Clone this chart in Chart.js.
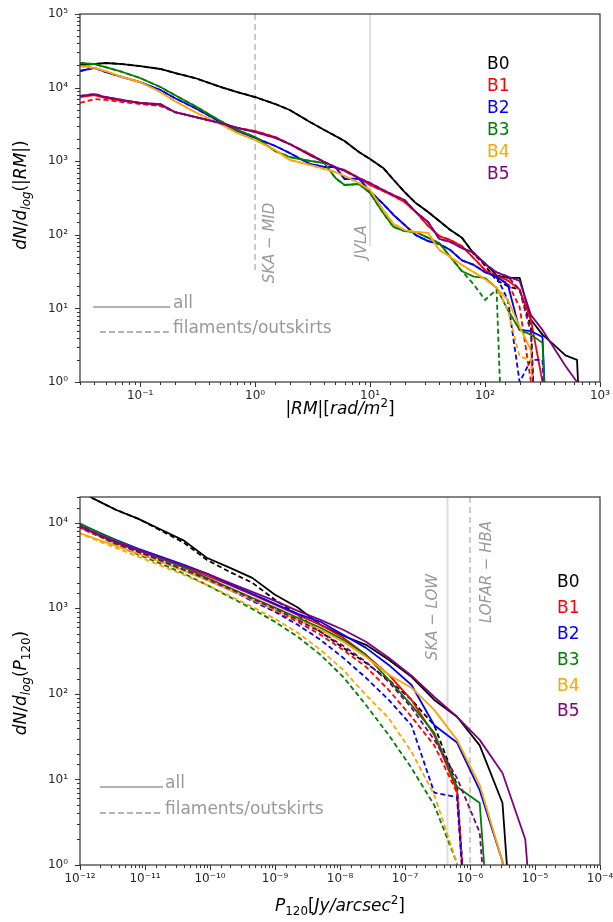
<!DOCTYPE html>
<html>
<head>
<meta charset="utf-8">
<script src="https://cdn.jsdelivr.net/npm/chart.js@4.4.1/dist/chart.umd.min.js"></script>
<style>
    body { margin: 0; background: #fff; }
    canvas { position: absolute; left: 0; }
    #rmChart { top: 0; }
    #pChart { top: 440px; }
</style>
</head>
<body>
<canvas id="rmChart" width="613" height="440"></canvas>
<canvas id="pChart" width="613" height="482"></canvas>
<script>
const boxNames = ['B0', 'B1', 'B2', 'B3', 'B4', 'B5'];
const boxColors = ['#000000', '#ff0000', '#0000ff', '#008000', '#ffa500', '#800080'];

// top panel: |RM| bins [rad/m^2], counts (0 = empty bin)
const rmBins = [0.03, 0.04, 0.05, 0.07, 0.1, 0.15, 0.2, 0.3, 0.5, 0.7, 1, 1.5, 2, 3, 4, 5, 6, 8, 10, 13,
    16, 20, 25, 32, 40, 50, 63, 80, 100, 126, 158, 200, 251, 316, 398, 501, 631, 794];

const rmAllB0 = [20300, 20900, 21600, 20900, 19600, 17900, 15800, 13500, 10200, 8700, 7450, 5980, 4960, 3410, 2660, 2200, 1880, 1330, 1070, 810,
    560, 380, 270, 204, 154, 116, 91, 55, 41, 28, 26, 26, 7.0, 4.4, 3.2, 2.3, 2.0, 0];
const rmFilB0 = [20300, 20900, 21600, 20900, 19600, 17900, 15800, 13500, 10200, 8700, 7450, 5980, 4960, 3410, 2660, 2200, 1880, 1330, 1070, 810,
    560, 380, 270, 204, 154, 116, 91, 55, 38, 24, 20, 18, 5.6, 0, 0, 0, 0, 0];
const rmAllB1 = [7450, 7930, 7220, 6580, 6180, 5800, 4660, 3990, 3300, 2830, 2570, 2130, 1710, 1250, 975, 809, 760, 590, 475, 394,
    337, 279, 204, 132, 96, 85, 70, 48, 33, 27.5, 24, 18, 6.9, 1.0, 0, 0, 0, 0];
const rmFilB1 = [6180, 7000, 6790, 6370, 5980, 5620, 4660, 3990, 3300, 2830, 2570, 2130, 1710, 1250, 975, 809, 760, 590, 475, 394,
    337, 279, 204, 132, 96, 85, 70, 48, 33, 26, 22, 10.4, 1.0, 0, 0, 0, 0, 0];
const rmAllB2 = [16800, 18500, 16300, 13900, 11900, 9270, 7220, 5280, 3410, 2570, 2070, 1610, 1290, 916, 834, 834, 573, 580, 390, 263,
    186, 136, 99, 82, 75, 62, 45, 39, 31, 27, 21, 5.1, 4.9, 4.1, 0, 0, 0, 0];
const rmFilB2 = [16800, 18500, 16300, 13900, 11900, 9270, 7220, 5280, 3410, 2570, 2070, 1610, 1290, 916, 834, 834, 573, 580, 390, 263,
    186, 136, 99, 82, 75, 62, 45, 39, 31, 27, 13, 1.0, 2.0, 2.0, 0, 0, 0, 0];
const rmAllB3 = [21600, 20900, 19000, 16300, 13500, 10200, 7930, 5620, 3520, 2660, 2130, 1370, 1140, 1010, 945, 590, 475, 490, 370, 198,
    128, 112, 109, 91, 77, 50, 32, 27, 26, 19, 9.5, 5.1, 4.4, 3.4, 0, 0, 0, 0];
const rmFilB3 = [21600, 20900, 19000, 16300, 13500, 10200, 7930, 5620, 3520, 2660, 2130, 1370, 1140, 1010, 945, 590, 475, 490, 370, 198,
    128, 112, 109, 91, 77, 50, 32, 21, 13, 18, 0, 0, 0, 0, 0, 0, 0, 0];
const rmAllB4 = [19600, 18500, 16800, 13900, 11900, 8700, 6580, 4660, 3200, 2420, 1940, 1420, 1040, 890, 784, 713, 630, 506, 406, 217,
    140, 116, 109, 106, 62, 50, 39, 31, 25, 19, 13, 5.6, 2.7, 0, 0, 0, 0, 0];
const rmFilB4 = [19600, 18500, 16800, 13900, 11900, 8700, 6580, 4660, 3200, 2420, 1940, 1420, 1040, 890, 784, 713, 630, 506, 406, 217,
    140, 116, 109, 106, 62, 50, 39, 31, 25, 19, 9.5, 2.2, 2.0, 0, 0, 0, 0, 0];
const rmAllB5 = [7690, 8180, 7450, 6790, 6180, 5980, 4660, 3990, 3300, 2830, 2490, 2070, 1710, 1210, 975, 834, 736, 590, 506, 406,
    347, 297, 204, 149, 88, 80, 66, 57, 40, 31, 27, 23.6, 8.1, 5.1, 2.9, 1.65, 1.0, 0];
const rmFilB5 = [7690, 8180, 7450, 6790, 6180, 5980, 4660, 3990, 3300, 2830, 2490, 2070, 1710, 1210, 975, 834, 736, 590, 506, 406,
    347, 297, 204, 149, 88, 80, 66, 57, 40, 31, 27, 18, 4.6, 0, 0, 0, 0, 0];

// bottom panel: P120 bins [Jy/arcsec^2], counts
const pBins = [7.08e-13, 1.58e-12, 3.55e-12, 7.94e-12, 1.78e-11, 3.98e-11, 8.91e-11, 2.00e-10, 4.47e-10, 1.00e-9, 2.24e-9,
    5.01e-9, 1.12e-8, 2.51e-8, 5.62e-8, 1.26e-7, 2.82e-7, 6.31e-7, 1.41e-6, 3.16e-6, 7.08e-6, 1.58e-5];

const pAllB0 = [28000, 19300, 14200, 11100, 8290, 6180, 3900, 2990, 2270, 1440, 1020, 641, 478, 374, 250, 158, 85, 54, 25, 5.3, 0, 0];
const pFilB0 = [28000, 19300, 14200, 11100, 8060, 5830, 3690, 2670, 1990, 1260, 839, 531, 345, 230, 146, 85, 43, 8.6, 0, 0, 0, 0];
const pAllB1 = [9730, 7640, 5830, 4710, 3790, 3050, 2400, 1880, 1440, 1100, 839, 641, 452, 286, 167, 85, 33, 7.5, 0, 0, 0, 0];
const pFilB1 = [9730, 7430, 5680, 4460, 3500, 2750, 2150, 1650, 1260, 935, 695, 490, 327, 207, 111, 54, 25, 7.0, 0, 0, 0, 0];
const pAllB2 = [10800, 8290, 6330, 4970, 4000, 3230, 2540, 1930, 1480, 1130, 861, 695, 490, 345, 218, 127, 43, 27, 7.5, 1.1, 0, 0];
const pFilB2 = [10500, 7850, 5830, 4580, 3590, 2820, 2150, 1650, 1220, 910, 641, 428, 264, 154, 85, 43, 7.0, 6.2, 0, 0, 0, 0];
const pAllB3 = [11100, 8290, 6180, 4830, 3790, 2990, 2270, 1740, 1330, 1020, 774, 592, 428, 286, 146, 74, 35, 8.2, 5.3, 0, 0, 0];
const pFilB3 = [10500, 7640, 5530, 4230, 3310, 2540, 1880, 1360, 986, 695, 465, 286, 158, 74, 33, 13.6, 5.0, 1.05, 0, 0, 0, 0];
const pAllB4 = [8290, 6680, 5380, 4340, 3500, 2750, 2150, 1650, 1260, 960, 733, 561, 406, 271, 167, 118, 65, 29, 8.6, 1.1, 0, 0];
const pFilB4 = [8290, 6500, 5100, 4000, 3140, 2460, 1880, 1400, 1040, 754, 517, 327, 191, 97, 52, 21, 6.6, 1.05, 0, 0, 0, 0];
const pAllB5 = [10300, 7850, 6000, 4830, 3900, 3140, 2540, 1990, 1560, 1220, 935, 733, 561, 406, 264, 163, 92, 54, 29, 11.9, 2.0, 0];
const pFilB5 = [10000, 7640, 5830, 4580, 3590, 2820, 2210, 1690, 1290, 986, 733, 531, 364, 237, 138, 69, 29, 10.4, 2.4, 0, 0, 0];

const rmThresholds = [1, 10];
const rmThresholdNames = ['SKA − MID', 'JVLA'];
const pThresholds = [4.5e-7, 1e-6];
const pThresholdNames = ['SKA − LOW', 'LOFAR − HBA'];

const keyNames = ['all', 'filaments/outskirts'];

const FONT = '"DejaVu Sans"';

function isDecade(v) {
    let e = Math.log10(v);
    return Math.abs(e - Math.round(e)) < 1e-6;
}

function supNum(n) {
    const map = { '-': '⁻', '0': '⁰', '1': '¹', '2': '²', '3': '³', '4': '⁴', '5': '⁵', '6': '⁶', '7': '⁷', '8': '⁸', '9': '⁹' };
    return String(n).split('').map(c => map[c]).join('');
}

function decadeLabel(value) {
    if (!isDecade(value)) return '';
    return '10' + supNum(Math.round(Math.log10(value)));
}

// empty bins go to a tiny value so the line drops like matplotlib's clipped log
function toPoints(bins, vals) {
    return bins.map(function(x, i) {
        return { x: x, y: vals[i] > 0 ? vals[i] : 1e-3 };
    });
}

function makeDatasets(bins, allSets, filSets) {
    let datasets = [];
    boxNames.forEach(function(name, i) {
        datasets.push({
            data: toPoints(bins, allSets[i]),
            borderColor: boxColors[i],
            borderWidth: 1.8,
            order: 20 - 2 * i
        });
        datasets.push({
            data: toPoints(bins, filSets[i]),
            borderColor: boxColors[i],
            borderWidth: 1.8,
            borderDash: [5, 3],
            order: 19 - 2 * i
        });
    });
    return datasets;
}

// text with italic / sub / sup pieces, roughly like mathtext
function drawMath(ctx, parts, cx, cy, size, vertical) {
    ctx.save();
    ctx.translate(cx, cy);
    if (vertical) ctx.rotate(-Math.PI / 2);
    ctx.fillStyle = '#000';
    ctx.textBaseline = 'alphabetic';
    let pieces = parts.map(function(p) {
        let small = p[1] === 'sub' || p[1] === 'sup';
        let font = (p[2] ? 'italic ' : '') + (small ? size * 0.7 : size) + 'px ' + FONT;
        ctx.font = font;
        let dy = p[1] === 'sub' ? size * 0.25 : (p[1] === 'sup' ? -size * 0.42 : 0);
        return { text: p[0], font: font, w: ctx.measureText(p[0]).width, dy: dy };
    });
    let total = pieces.reduce((s, p) => s + p.w, 0);
    let x = -total / 2;
    pieces.forEach(function(p) {
        ctx.font = p.font;
        ctx.fillText(p.text, x, size * 0.36 + p.dy);
        x += p.w;
    });
    ctx.restore();
}

const decorPlugin = {
    id: 'decor',
    beforeDatasetsDraw(chart, args, opts) {
        const ctx = chart.ctx;
        const area = chart.chartArea;
        const xs = chart.scales.x, ys = chart.scales.y;
        ctx.save();
        opts.refLines.forEach(function(r) {
            let px = xs.getPixelForValue(r.value);
            ctx.strokeStyle = r.color;
            ctx.lineWidth = r.width;
            ctx.setLineDash(r.dash);
            ctx.beginPath();
            ctx.moveTo(px, area.top);
            ctx.lineTo(px, r.from ? ys.getPixelForValue(r.from) : area.bottom);
            ctx.stroke();
        });
        ctx.restore();
    },
    afterDraw(chart, args, opts) {
        const ctx = chart.ctx;
        const area = chart.chartArea;
        ctx.save();

        // frame and ticks
        ctx.strokeStyle = '#333';
        ctx.lineWidth = 1;
        ['x', 'y'].forEach(function(id) {
            const scale = chart.scales[id];
            scale.ticks.forEach(function(t) {
                let len = isDecade(t.value) ? 5 : 3;
                let p = Math.round(scale.getPixelForValue(t.value)) + 0.5;
                ctx.beginPath();
                if (id === 'x') {
                    ctx.moveTo(p, area.bottom);
                    ctx.lineTo(p, area.bottom + len);
                } else {
                    ctx.moveTo(area.left, p);
                    ctx.lineTo(area.left - len, p);
                }
                ctx.stroke();
            });
        });
        ctx.lineWidth = 1.2;
        ctx.strokeRect(area.left, area.top, area.right - area.left, area.bottom - area.top);

        // threshold labels
        ctx.fillStyle = '#999';
        ctx.font = 'italic 15px ' + FONT;
        ctx.textAlign = 'center';
        ctx.textBaseline = 'middle';
        opts.refLines.forEach(function(r) {
            let px = chart.scales.x.getPixelForValue(r.value);
            ctx.save();
            ctx.translate(px + r.dx, r.cy);
            ctx.rotate(-Math.PI / 2);
            ctx.fillText(r.label, 0, 0);
            ctx.restore();
        });

        // B0..B5 legend
        ctx.font = '17px ' + FONT;
        ctx.textAlign = 'left';
        boxNames.forEach(function(name, i) {
            ctx.fillStyle = boxColors[i];
            ctx.fillText(name, opts.boxLegend.x, opts.boxLegend.y + opts.boxLegend.step * i);
        });

        // line-style key
        const k = opts.key;
        ctx.strokeStyle = '#999';
        ctx.lineWidth = 1.5;
        ctx.beginPath();
        ctx.moveTo(k.x0, k.y0);
        ctx.lineTo(k.x1, k.y0);
        ctx.stroke();
        ctx.setLineDash([6, 3]);
        ctx.beginPath();
        ctx.moveTo(k.x0d, k.y1);
        ctx.lineTo(k.x1, k.y1);
        ctx.stroke();
        ctx.setLineDash([]);
        ctx.fillStyle = '#999';
        ctx.textBaseline = 'alphabetic';
        ctx.fillText(keyNames[0], k.tx, k.y0 + 1);
        ctx.fillText(keyNames[1], k.tx, k.y1 + 1);
        ctx.restore();

        drawMath(ctx, opts.xTitle, opts.xTitlePos[0], opts.xTitlePos[1], 17, false);
        drawMath(ctx, opts.yTitle, opts.yTitlePos[0], opts.yTitlePos[1], 17, true);
    }
};

function panelOptions(cfg) {
    const tickFont = { family: 'DejaVu Sans', size: 12 };
    return {
        responsive: false,
        animation: false,
        devicePixelRatio: 1,
        layout: { padding: cfg.padding },
        elements: {
            point: { radius: 0 },
            line: { tension: 0, borderJoinStyle: 'round' }
        },
        plugins: {
            legend: { display: false },
            tooltip: { enabled: false },
            title: { display: false },
            decor: cfg.decor
        },
        scales: {
            x: {
                type: 'logarithmic',
                min: cfg.xMin,
                max: cfg.xMax,
                grid: { display: false, drawTicks: false },
                border: { display: false },
                ticks: {
                    autoSkip: false,
                    maxRotation: 0,
                    minRotation: 0,
                    padding: 7,
                    color: '#262626',
                    font: tickFont,
                    callback: decadeLabel
                },
                afterFit: function(scale) {
                    scale.height = 40;
                    scale.paddingLeft = 0;
                    scale.paddingRight = 0;
                }
            },
            y: {
                type: 'logarithmic',
                min: cfg.yMin,
                max: cfg.yMax,
                grid: { display: false, drawTicks: false },
                border: { display: false },
                ticks: {
                    autoSkip: false,
                    padding: 12,
                    color: '#262626',
                    font: tickFont,
                    callback: decadeLabel
                },
                afterFit: function(scale) {
                    scale.width = 80;
                    scale.paddingTop = 0;
                    scale.paddingBottom = 0;
                }
            }
        }
    };
}

function createRmChart() {
    const ctx = document.querySelector('#rmChart').getContext('2d');
    const decor = {
        refLines: [
            { value: rmThresholds[0], from: 30, color: '#aaaaaa', width: 1.2, dash: [6, 4], label: rmThresholdNames[0], dx: 15, cy: 243 },
            { value: rmThresholds[1], from: 70, color: '#cccccc', width: 1.2, dash: [], label: rmThresholdNames[1], dx: -8, cy: 242 }
        ],
        boxLegend: { x: 487, y: 65, step: 22 },
        key: { x0: 93, x0d: 100, x1: 170, y0: 307, y1: 332, tx: 173 },
        xTitle: [['|', 'base', 0], ['RM', 'base', 1], ['|[', 'base', 0], ['rad/m', 'base', 1], ['2', 'sup', 0], [']', 'base', 0]],
        xTitlePos: [340, 408],
        yTitle: [['dN', 'base', 1], ['/', 'base', 0], ['d', 'base', 1], ['log', 'sub', 1], ['(|', 'base', 0], ['RM', 'base', 1], ['|)', 'base', 0]],
        yTitlePos: [20, 195]
    };
    new Chart(ctx, {
        type: 'line',
        data: {
            datasets: makeDatasets(rmBins,
                [rmAllB0, rmAllB1, rmAllB2, rmAllB3, rmAllB4, rmAllB5],
                [rmFilB0, rmFilB1, rmFilB2, rmFilB3, rmFilB4, rmFilB5])
        },
        options: panelOptions({
            padding: { top: 14, right: 13, bottom: 18, left: 0 },
            xMin: 0.03, xMax: 1000, yMin: 1, yMax: 1e5,
            decor: decor
        }),
        plugins: [decorPlugin]
    });
}

function createPChart() {
    const ctx = document.querySelector('#pChart').getContext('2d');
    const decor = {
        refLines: [
            { value: pThresholds[0], from: null, color: '#dddddd', width: 2, dash: [], label: pThresholdNames[0], dx: -14, cy: 177 },
            { value: pThresholds[1], from: null, color: '#aaaaaa', width: 1.2, dash: [6, 4], label: pThresholdNames[1], dx: 17, cy: 132 }
        ],
        boxLegend: { x: 557, y: 143, step: 25.8 },
        key: { x0: 100, x0d: 100, x1: 163, y0: 347, y1: 373, tx: 165 },
        xTitle: [['P', 'base', 1], ['120', 'sub', 0], ['[', 'base', 0], ['Jy/arcsec', 'base', 1], ['2', 'sup', 0], [']', 'base', 0]],
        xTitlePos: [340, 465],
        yTitle: [['dN', 'base', 1], ['/', 'base', 0], ['d', 'base', 1], ['log', 'sub', 1], ['(', 'base', 0], ['P', 'base', 1], ['120', 'sub', 0], [')', 'base', 0]],
        yTitlePos: [20, 243]
    };
    new Chart(ctx, {
        type: 'line',
        data: {
            datasets: makeDatasets(pBins,
                [pAllB0, pAllB1, pAllB2, pAllB3, pAllB4, pAllB5],
                [pFilB0, pFilB1, pFilB2, pFilB3, pFilB4, pFilB5])
        },
        options: panelOptions({
            padding: { top: 57, right: 13, bottom: 17, left: 0 },
            xMin: 1e-12, xMax: 1e-4, yMin: 1, yMax: 2e4,
            decor: decor
        }),
        plugins: [decorPlugin]
    });
}

createRmChart();
createPChart();
</script>
</body>
</html>
